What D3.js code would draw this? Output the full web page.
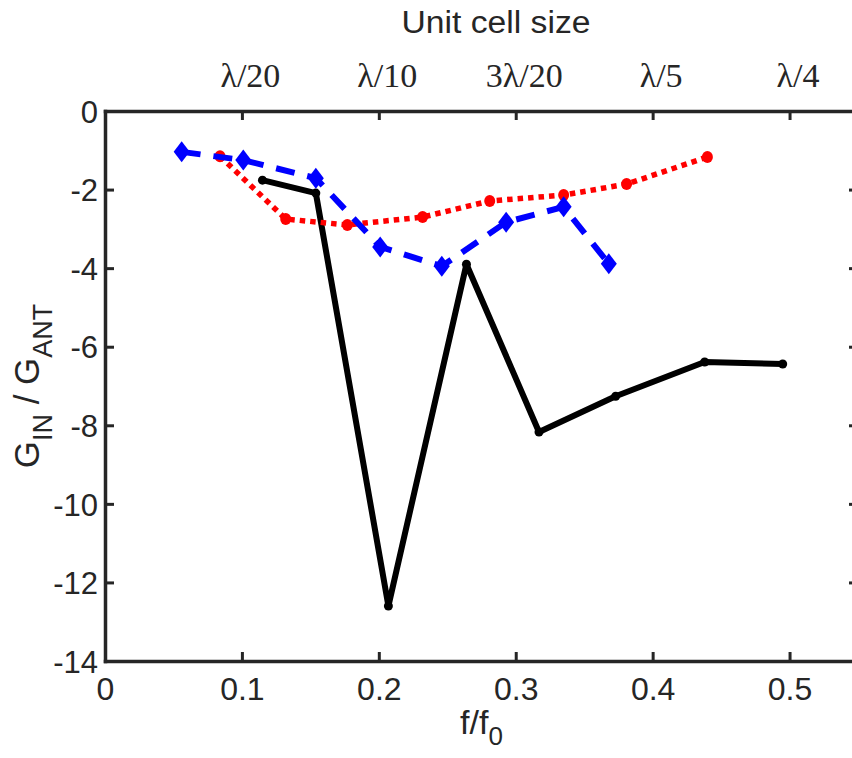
<!DOCTYPE html>
<html>
<head>
<meta charset="utf-8">
<script src="https://cdn.jsdelivr.net/npm/d3@7"></script>
<style>
  html, body { margin: 0; padding: 0; background: #ffffff; overflow: hidden; }
  svg { display: block; }
</style>
</head>
<body>
<div id="chart"></div>
<script>
// ---------------- data ----------------
const xTickValues = [0, 0.1, 0.2, 0.3, 0.4, 0.5];
const xTickLabels = ["0", "0.1", "0.2", "0.3", "0.4", "0.5"];
const yTickValues = [0, -2, -4, -6, -8, -10, -12, -14];
const yTickLabels = ["0", "-2", "-4", "-6", "-8", "-10", "-12", "-14"];
const topTickValues = [0.1, 0.2, 0.3, 0.4, 0.5];
const topTickLabels = ["λ/20", "λ/10", "3λ/20", "λ/5", "λ/4"];

const blackX = [0.115, 0.154, 0.207, 0.264, 0.317, 0.373, 0.438, 0.495];
const blackY = [-1.76, -2.09, -12.6, -3.90, -8.17, -7.26, -6.39, -6.44];

const redX = [0.084, 0.132, 0.177, 0.232, 0.281, 0.335, 0.381, 0.440];
const redY = [-1.15, -2.75, -2.90, -2.70, -2.29, -2.14, -1.86, -1.17];

const blueX = [0.056, 0.101, 0.154, 0.201, 0.246, 0.293, 0.335, 0.368];
const blueY = [-1.04, -1.25, -1.71, -3.46, -3.95, -2.83, -2.44, -3.89];

// ---------------- layout ----------------
const W = 852, H = 758;
const axisColor = "#262626";
const sans = "Arial, 'Liberation Sans', Helvetica, sans-serif";
const serif = "'Times New Roman', 'Liberation Serif', Times, serif";

const x = d3.scaleLinear().domain([0, 0.55]).range([105, 858]);
const y = d3.scaleLinear().domain([-14, 0]).range([661, 111]);

const svg = d3.select("#chart").append("svg")
  .attr("width", W).attr("height", H)
  .attr("viewBox", `0 0 ${W} ${H}`);

svg.append("rect").attr("width", W).attr("height", H).attr("fill", "#fff");

// ---------------- series ----------------
const line = d3.line().x(d => x(d[0])).y(d => y(d[1]));
const zipS = (a, b) => a.map((v, i) => [v, b[i]]);

const blackData = zipS(blackX, blackY);
const redData = zipS(redX, redY);
const blueData = zipS(blueX, blueY);

// black solid
svg.append("path").datum(blackData)
  .attr("d", line).attr("fill", "none")
  .attr("stroke", "#000").attr("stroke-width", 6)
  .attr("stroke-linejoin", "round");
svg.selectAll(".bdot").data(blackData).enter().append("circle")
  .attr("cx", d => x(d[0])).attr("cy", d => y(d[1])).attr("r", 4.5)
  .attr("fill", "#000");

// red dotted
svg.append("path").datum(redData)
  .attr("d", line).attr("fill", "none")
  .attr("stroke", "#ff0000").attr("stroke-width", 5.5)
  .attr("stroke-dasharray", "5.5,5");
svg.selectAll(".rdot").data(redData).enter().append("ellipse")
  .attr("cx", d => x(d[0])).attr("cy", d => y(d[1]))
  .attr("rx", 5.5).attr("ry", 6)
  .attr("fill", "#ff0000");

// blue dashed with diamonds
svg.append("path").datum(blueData)
  .attr("d", line).attr("fill", "none")
  .attr("stroke", "#0000ff").attr("stroke-width", 6)
  .attr("stroke-dasharray", "19,13");
svg.selectAll(".diam").data(blueData).enter().append("path")
  .attr("d", d => {
    const cx = x(d[0]), cy = y(d[1]);
    return `M${cx},${cy - 10.5}L${cx + 8},${cy}L${cx},${cy + 10.5}L${cx - 8},${cy}Z`;
  })
  .attr("fill", "#0000ff");

// ---------------- axes ----------------
function styleAxis(g) {
  g.select(".domain").attr("stroke", axisColor).attr("stroke-width", 3.5)
    .attr("stroke-linecap", "square");
  g.selectAll(".tick line").attr("stroke", axisColor).attr("stroke-width", 3);
  g.selectAll(".tick text").attr("fill", axisColor);
}

const gBottom = svg.append("g").attr("transform", `translate(0,${y(-14)})`)
  .call(d3.axisBottom(x).tickValues(xTickValues)
    .tickFormat((d, i) => xTickLabels[i])
    .tickSizeInner(-9).tickSizeOuter(0).tickPadding(0));
styleAxis(gBottom);
gBottom.selectAll(".tick text")
  .attr("y", 39).attr("dy", null)
  .attr("font-family", sans).attr("font-size", 32);

const gLeft = svg.append("g").attr("transform", `translate(${x(0)},0)`)
  .call(d3.axisLeft(y).tickValues(yTickValues)
    .tickFormat((d, i) => yTickLabels[i])
    .tickSizeInner(-9).tickSizeOuter(0).tickPadding(0));
styleAxis(gLeft);
gLeft.selectAll(".tick text")
  .attr("x", -7).attr("dy", "0.36em")
  .attr("font-family", sans).attr("font-size", 31);

const gTop = svg.append("g").attr("transform", `translate(0,${y(0)})`)
  .call(d3.axisTop(x).tickValues(topTickValues)
    .tickFormat((d, i) => topTickLabels[i])
    .tickSizeInner(-9).tickSizeOuter(0).tickPadding(0));
styleAxis(gTop);
gTop.selectAll(".tick text")
  .attr("y", -24).attr("dy", null).attr("dx", 8)
  .attr("font-family", serif).attr("font-size", 34);

const gRight = svg.append("g").attr("transform", `translate(${x(0.55)},0)`)
  .call(d3.axisRight(y).tickValues(yTickValues)
    .tickFormat("").tickSizeInner(-9).tickSizeOuter(0));
styleAxis(gRight);

// ---------------- titles ----------------
svg.append("text")
  .attr("x", 496).attr("y", 33)
  .attr("text-anchor", "middle")
  .attr("font-family", sans).attr("font-size", 31)
  .attr("fill", axisColor)
  .attr("textLength", 189).attr("lengthAdjust", "spacingAndGlyphs")
  .text("Unit cell size");

const xl = svg.append("text")
  .attr("x", (x(0) + x(0.55)) / 2).attr("y", 734)
  .attr("text-anchor", "middle")
  .attr("font-family", sans).attr("font-size", 34)
  .attr("fill", axisColor);
xl.append("tspan").text("f/f");
xl.append("tspan").attr("font-size", 26).attr("dy", 11).text("0");

const yl = svg.append("text")
  .attr("transform", `translate(39,${(y(0) + y(-14)) / 2}) rotate(-90)`)
  .attr("text-anchor", "middle")
  .attr("font-family", sans).attr("font-size", 35)
  .attr("fill", axisColor);
yl.append("tspan").text("G");
yl.append("tspan").attr("font-size", 27).attr("dy", 13).text("IN");
yl.append("tspan").attr("dy", -13).text(" / G");
yl.append("tspan").attr("font-size", 27).attr("dy", 13).text("ANT");
</script>
</body>
</html>
